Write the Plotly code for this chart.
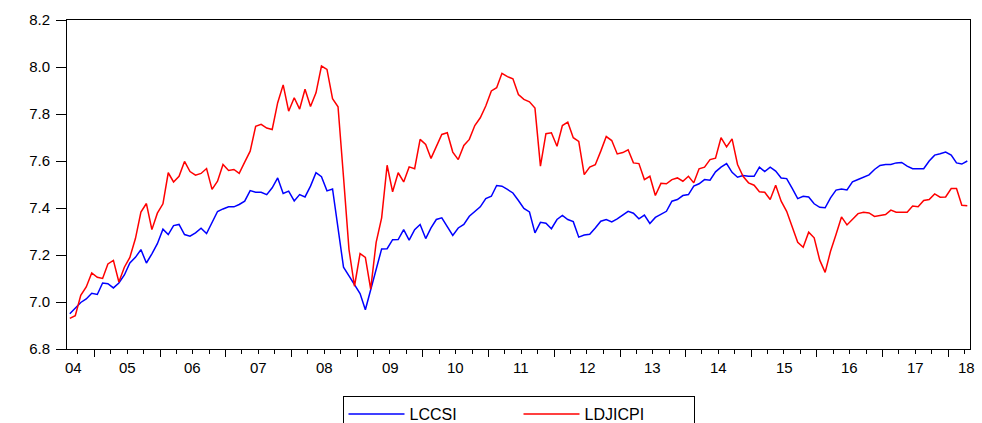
import pandas as pd
import plotly.graph_objects as go

# Monthly observations, 2004M08 .. 2018M04
months = pd.date_range("2004-08-01", "2018-04-01", freq="MS")

lccsi = [
    6.950, 6.975, 6.998, 7.013, 7.037,
    7.032, 7.081, 7.078, 7.060, 7.081, 7.115, 7.166, 7.190, 7.223, 7.166, 7.205, 7.248,
    7.310, 7.287, 7.325, 7.330, 7.287, 7.280, 7.294, 7.314, 7.291, 7.337, 7.385, 7.396,
    7.405, 7.405, 7.415, 7.429, 7.474, 7.467, 7.467, 7.457, 7.486, 7.528, 7.462, 7.472,
    7.430, 7.457, 7.447, 7.493, 7.550, 7.533, 7.473, 7.481, 7.310, 7.148, 7.111, 7.072,
    7.036, 6.967, 7.053, 7.145, 7.226, 7.227, 7.265, 7.266, 7.308, 7.263, 7.308, 7.330,
    7.270, 7.315, 7.351, 7.358, 7.318, 7.283, 7.315, 7.330, 7.365, 7.385, 7.405, 7.440,
    7.450, 7.496, 7.493, 7.479, 7.464, 7.432, 7.398, 7.383, 7.294, 7.339, 7.335, 7.312,
    7.351, 7.368, 7.351, 7.342, 7.276, 7.285, 7.288, 7.315, 7.344, 7.351, 7.341, 7.354,
    7.372, 7.386, 7.378, 7.354, 7.370, 7.334, 7.360, 7.374, 7.386, 7.429, 7.436, 7.453,
    7.457, 7.493, 7.503, 7.521, 7.518, 7.554, 7.574, 7.589, 7.552, 7.531, 7.538, 7.535,
    7.535, 7.574, 7.555, 7.574, 7.557, 7.528, 7.525, 7.483, 7.440, 7.450, 7.447, 7.418,
    7.403, 7.401, 7.443, 7.476, 7.481, 7.477, 7.511, 7.521, 7.531, 7.541, 7.564, 7.581,
    7.585, 7.585, 7.592, 7.594, 7.578, 7.567, 7.567, 7.567, 7.600, 7.625, 7.631, 7.638,
    7.625, 7.592, 7.587, 7.600,
]

ldjicpi = [
    6.930, 6.942, 7.028, 7.064, 7.124,
    7.105, 7.100, 7.162, 7.177, 7.085, 7.148, 7.190, 7.270, 7.383, 7.419, 7.308, 7.378,
    7.418, 7.550, 7.511, 7.535, 7.598, 7.555, 7.540, 7.547, 7.568, 7.479, 7.514, 7.585,
    7.560, 7.564, 7.547, 7.595, 7.642, 7.748, 7.756, 7.740, 7.734, 7.848, 7.924, 7.812,
    7.869, 7.821, 7.905, 7.832, 7.890, 8.004, 7.990, 7.865, 7.831, 7.532, 7.223, 7.067,
    7.206, 7.190, 7.055, 7.254, 7.358, 7.582, 7.469, 7.550, 7.511, 7.575, 7.567, 7.692,
    7.670, 7.611, 7.663, 7.713, 7.720, 7.638, 7.606, 7.666, 7.692, 7.751, 7.784, 7.834,
    7.898, 7.912, 7.973, 7.959, 7.950, 7.883, 7.862, 7.852, 7.825, 7.578, 7.716, 7.720,
    7.663, 7.751, 7.765, 7.699, 7.683, 7.542, 7.574, 7.584, 7.642, 7.704, 7.687, 7.630,
    7.636, 7.648, 7.592, 7.589, 7.521, 7.535, 7.453, 7.505, 7.503, 7.521, 7.528, 7.514,
    7.535, 7.507, 7.567, 7.574, 7.606, 7.612, 7.699, 7.660, 7.694, 7.585, 7.535, 7.507,
    7.497, 7.469, 7.467, 7.436, 7.497, 7.429, 7.386, 7.322, 7.254, 7.233, 7.297, 7.273,
    7.178, 7.126, 7.216, 7.287, 7.362, 7.328, 7.351, 7.376, 7.382, 7.379, 7.364, 7.368,
    7.372, 7.391, 7.382, 7.382, 7.382, 7.408, 7.405, 7.432, 7.436, 7.460, 7.446, 7.447,
    7.483, 7.483, 7.412, 7.410,
]

year_labels = ["04", "05", "06", "07", "08", "09", "10", "11", "12",
               "13", "14", "15", "16", "17", "18"]
year_label_dates = ["2004-09-05"] + [f"20{y}-07-02" for y in year_labels[1:-1]] + ["2018-04-10"]

y_ticks = [6.8, 7.0, 7.2, 7.4, 7.6, 7.8, 8.0, 8.2]

FONT = "Liberation Sans, Arial, sans-serif"

fig = go.Figure()
fig.add_trace(go.Scatter(x=months, y=lccsi, mode="lines", name="LCCSI",
                         line=dict(color="#0000FF", width=1.5),
                         xperiod="M1", xperiodalignment="middle"))
fig.add_trace(go.Scatter(x=months, y=ldjicpi, mode="lines", name="LDJICPI",
                         line=dict(color="#FF0000", width=1.5),
                         xperiod="M1", xperiodalignment="middle"))

for lab, d in zip(year_labels, year_label_dates):
    fig.add_annotation(x=d, xref="x", y=0, yref="paper", yanchor="top",
                       text=lab, showarrow=False, yshift=-8,
                       font=dict(family=FONT, size=15, color="black"))

fig.update_layout(
    width=982, height=423,
    margin=dict(l=67, r=12, t=20, b=74, autoexpand=False),
    paper_bgcolor="white", plot_bgcolor="white",
    font=dict(family=FONT, size=15, color="black"),
    showlegend=True,
    legend=dict(orientation="h", x=0.5, xanchor="center", y=-0.143, yanchor="top",
                bordercolor="black", borderwidth=1, bgcolor="white",
                font=dict(family=FONT, size=16, color="black"),
                entrywidth=104, entrywidthmode="pixels", itemwidth=56),
    xaxis=dict(type="date", range=["2004-08-01", "2018-05-01"],
               tick0="2005-01-01", dtick="M12", ticks="outside", ticklen=7,
               tickcolor="black", showticklabels=False, showgrid=False,
               showline=True, linecolor="black", linewidth=1, mirror=True,
               zeroline=False,
               minor=dict(tick0="2005-01-01", dtick="M3", ticks="outside",
                          ticklen=4, tickcolor="black", showgrid=False)),
    yaxis=dict(range=[6.8, 8.2], tickvals=y_ticks, tickformat=".1f",
               ticks="outside", ticklen=10, tickcolor="black", showgrid=False,
               ticklabelstandoff=3,
               showline=True, linecolor="black", linewidth=1, mirror=True,
               zeroline=False, tickfont=dict(family=FONT, size=15, color="black")),
)

fig.write_html("out.html", config={"displayModeBar": False},
               post_script="document.body.style.margin='0';document.body.style.overflow='hidden';")
